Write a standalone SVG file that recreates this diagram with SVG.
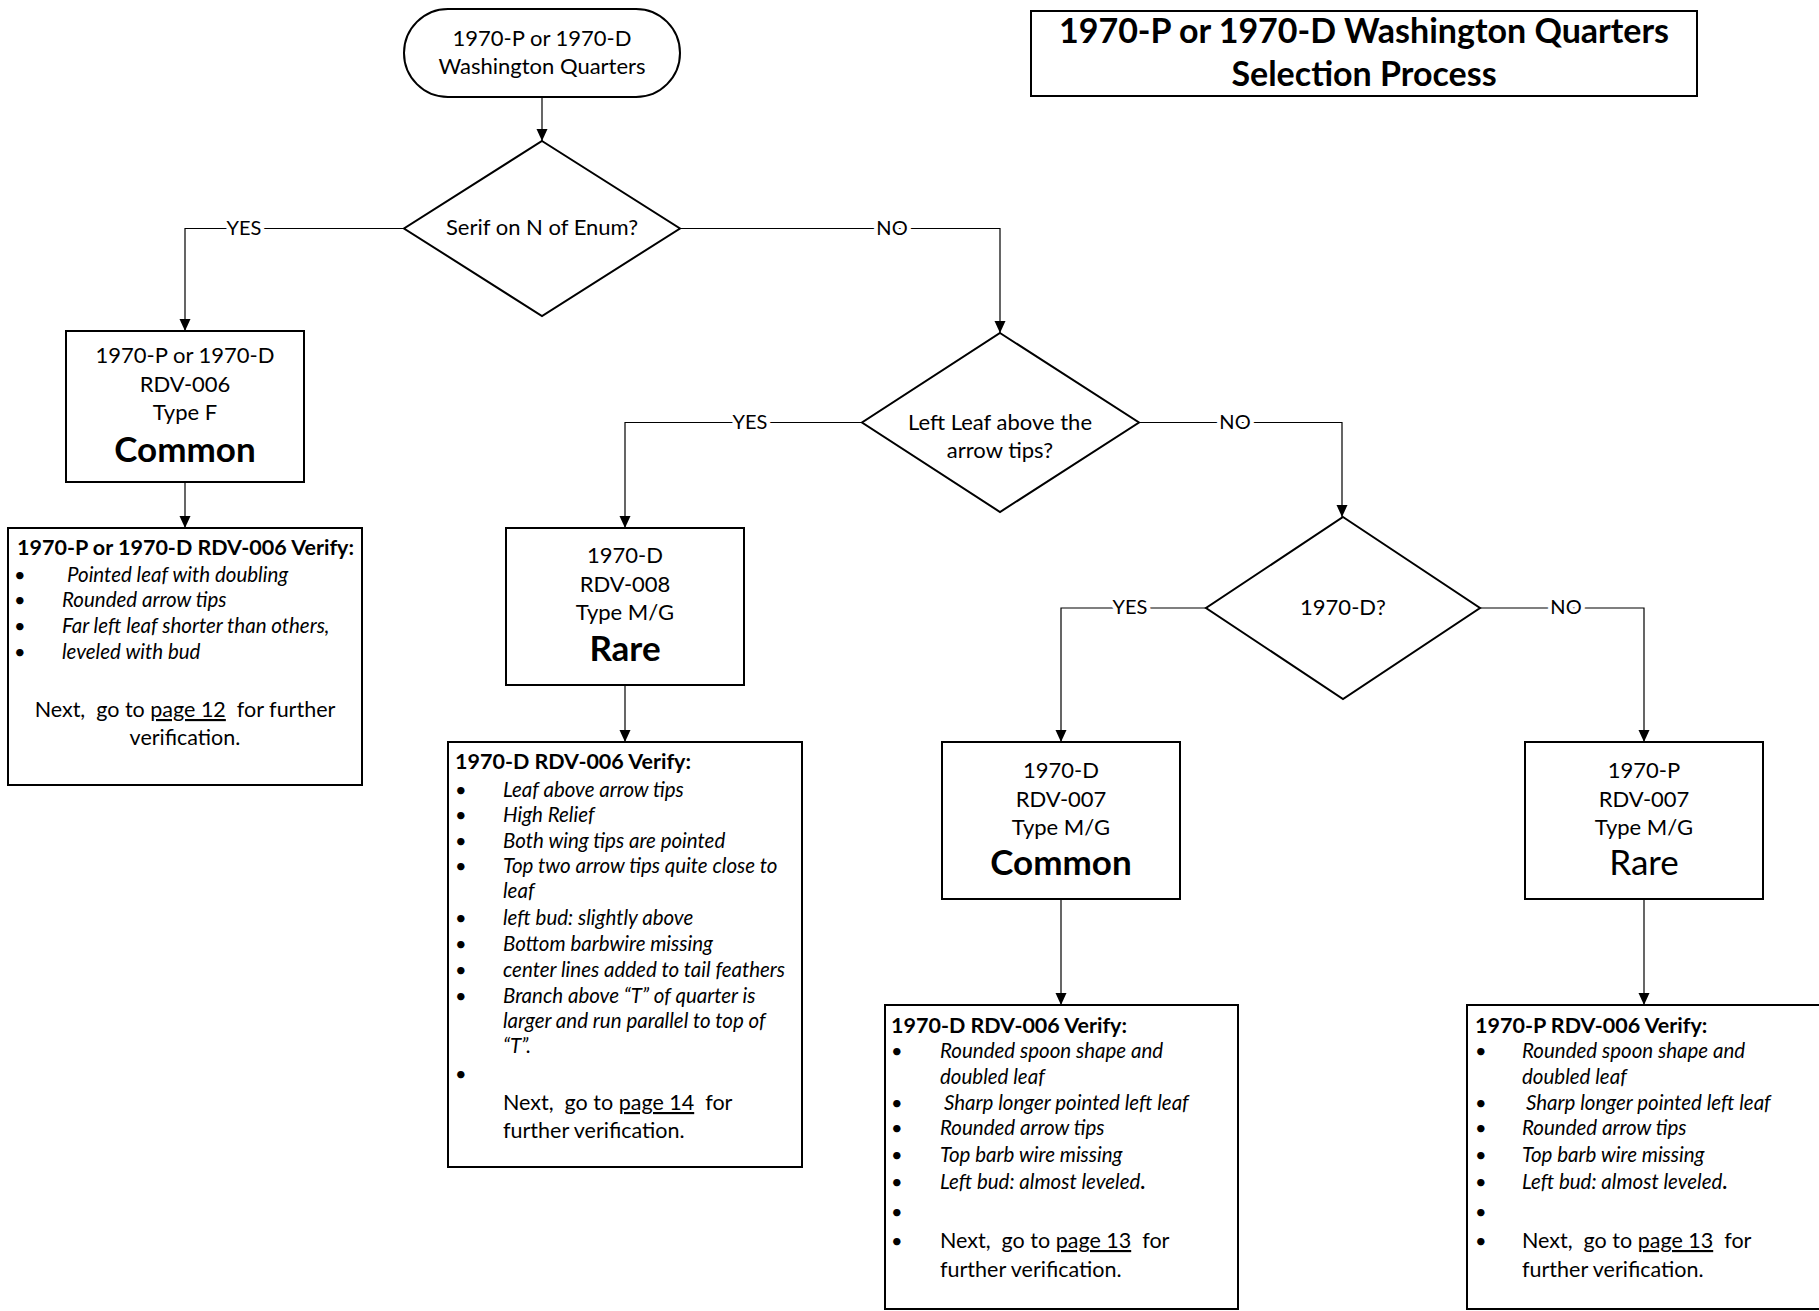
<svg xmlns="http://www.w3.org/2000/svg" width="1819" height="1311" viewBox="0 0 1819 1311">
<style>
.box{fill:#fff;stroke:#000;stroke-width:2}
.conn{fill:none;stroke:#000;stroke-width:1.2}
text{font-family:Lato,"Open Sans",sans-serif;fill:#000}
.m{font-size:22px;text-anchor:middle}
.big{font-size:35px;font-weight:bold;text-anchor:middle}
.bigr{font-size:35px;text-anchor:middle}
.lbl{font-size:20px;text-anchor:middle;stroke:#fff;stroke-width:8;paint-order:stroke}
.hd{font-size:21.5px;font-weight:bold}
.it{font-size:20.5px;font-style:italic}
.nx{font-size:21.5px;white-space:pre}
.bu{font-size:20px}
.ttl{font-size:34px;font-weight:bold;text-anchor:middle}
</style>
<defs>
<marker id="ah" markerWidth="12" markerHeight="14" refX="12" refY="7" orient="auto" markerUnits="userSpaceOnUse">
<path d="M0,1.5 L12,7 L0,12.5 Z" fill="#000"/>
</marker>
</defs>

<g id="connectors">
<path class="conn" d="M542,97 V141" marker-end="url(#ah)"/>
<path class="conn" d="M404,228.5 H185 V331" marker-end="url(#ah)"/>
<path class="conn" d="M680,228.5 H1000 V333" marker-end="url(#ah)"/>
<path class="conn" d="M185,482 V528" marker-end="url(#ah)"/>
<path class="conn" d="M862,422.5 H625 V528" marker-end="url(#ah)"/>
<path class="conn" d="M1139,422.5 H1342 V517" marker-end="url(#ah)"/>
<path class="conn" d="M625,685 V742" marker-end="url(#ah)"/>
<path class="conn" d="M1206,608 H1061 V742" marker-end="url(#ah)"/>
<path class="conn" d="M1480,608 H1644 V742" marker-end="url(#ah)"/>
<path class="conn" d="M1061,899 V1005" marker-end="url(#ah)"/>
<path class="conn" d="M1644,899 V1005" marker-end="url(#ah)"/>
<text class="lbl" x="244" y="235">YES</text>
<text class="lbl" x="892" y="235">NO</text>
<text class="lbl" x="750" y="429">YES</text>
<text class="lbl" x="1235" y="429">NO</text>
<text class="lbl" x="1130" y="614">YES</text>
<text class="lbl" x="1566" y="614">NO</text>
</g>

<g id="title">
<rect class="box" x="1031" y="11" width="666" height="85"/>
<text class="ttl" x="1364" y="43">1970-P or 1970-D Washington Quarters</text>
<text class="ttl" x="1364" y="86">Selection Process</text>
</g>

<g id="start">
<rect class="box" x="404" y="9" width="276" height="88" rx="44" ry="44"/>
<text class="m" x="542" y="46">1970-P or 1970-D</text>
<text class="m" x="542" y="74">Washington Quarters</text>
</g>

<g id="d1">
<polygon class="box" points="542,141 680,228.5 542,316 404,228.5"/>
<text class="m" x="542" y="235">Serif on N of Enum?</text>
</g>

<g id="boxA">
<rect class="box" x="66" y="331" width="238" height="151"/>
<text class="m" x="185" y="363">1970-P or 1970-D</text>
<text class="m" x="185" y="392">RDV-006</text>
<text class="m" x="185" y="420">Type F</text>
<text class="big" x="185" y="462">Common</text>
</g>

<g id="verifyA">
<rect class="box" x="8" y="528" width="354" height="257"/>
<text class="hd" x="17" y="555">1970-P or 1970-D RDV-006 Verify:</text>
<text class="bu" x="14" y="582">•</text>
<text class="bu" x="14" y="607">•</text>
<text class="bu" x="14" y="633">•</text>
<text class="bu" x="14" y="659">•</text>
<text class="it" x="67" y="582">Pointed leaf with doubling</text>
<text class="it" x="62" y="607">Rounded arrow tips</text>
<text class="it" x="62" y="633">Far left leaf shorter than others,</text>
<text class="it" x="62" y="659">leveled with bud</text>
<text class="nx" x="185" y="717" text-anchor="middle" xml:space="preserve">Next,  go to <tspan text-decoration="underline">page 12</tspan>  for further</text>
<text class="nx" x="185" y="745" text-anchor="middle">verification.</text>
</g>

<g id="d2">
<polygon class="box" points="1000,333 1139,422.5 1000,512 862,422.5"/>
<text class="m" x="1000" y="430">Left Leaf above the</text>
<text class="m" x="1000" y="458">arrow tips?</text>
</g>

<g id="boxB">
<rect class="box" x="506" y="528" width="238" height="157"/>
<text class="m" x="625" y="563">1970-D</text>
<text class="m" x="625" y="592">RDV-008</text>
<text class="m" x="625" y="620">Type M/G</text>
<text class="big" x="625" y="661">Rare</text>
</g>

<g id="verifyB">
<rect class="box" x="448" y="742" width="354" height="425"/>
<text class="hd" x="455" y="769">1970-D RDV-006 Verify:</text>
<text class="bu" x="455" y="797">•</text>
<text class="bu" x="455" y="822">•</text>
<text class="bu" x="455" y="848">•</text>
<text class="bu" x="455" y="873">•</text>
<text class="bu" x="455" y="925">•</text>
<text class="bu" x="455" y="951">•</text>
<text class="bu" x="455" y="977">•</text>
<text class="bu" x="455" y="1003">•</text>
<text class="bu" x="455" y="1081">•</text>
<text class="it" x="503" y="797">Leaf above arrow tips</text>
<text class="it" x="503" y="822">High Relief</text>
<text class="it" x="503" y="848">Both wing tips are pointed</text>
<text class="it" x="503" y="873">Top two arrow tips quite close to</text>
<text class="it" x="503" y="898">leaf</text>
<text class="it" x="503" y="925">left bud: slightly above</text>
<text class="it" x="503" y="951">Bottom barbwire missing</text>
<text class="it" x="503" y="977">center lines added to tail feathers</text>
<text class="it" x="503" y="1003">Branch above “T” of quarter is</text>
<text class="it" x="503" y="1028">larger and run parallel to top of</text>
<text class="it" x="503" y="1053">“T”.</text>
<text class="nx" x="503" y="1110" xml:space="preserve">Next,  go to <tspan text-decoration="underline">page 14</tspan>  for</text>
<text class="nx" x="503" y="1138">further verification.</text>
</g>

<g id="d3">
<polygon class="box" points="1343,517 1480,608 1343,699 1206,608"/>
<text class="m" x="1343" y="615">1970-D?</text>
</g>

<g id="boxC">
<rect class="box" x="942" y="742" width="238" height="157"/>
<text class="m" x="1061" y="778">1970-D</text>
<text class="m" x="1061" y="807">RDV-007</text>
<text class="m" x="1061" y="835">Type M/G</text>
<text class="big" x="1061" y="875">Common</text>
</g>

<g id="boxD">
<rect class="box" x="1525" y="742" width="238" height="157"/>
<text class="m" x="1644" y="778">1970-P</text>
<text class="m" x="1644" y="807">RDV-007</text>
<text class="m" x="1644" y="835">Type M/G</text>
<text class="bigr" x="1644" y="875">Rare</text>
</g>

<g id="verifyC">
<rect class="box" x="885" y="1005" width="353" height="304"/>
<text class="hd" x="891" y="1033">1970-D RDV-006 Verify:</text>
<text class="bu" x="891" y="1058">•</text>
<text class="bu" x="891" y="1110">•</text>
<text class="bu" x="891" y="1135">•</text>
<text class="bu" x="891" y="1162">•</text>
<text class="bu" x="891" y="1189">•</text>
<text class="bu" x="891" y="1219">•</text>
<text class="bu" x="891" y="1248">•</text>
<text class="it" x="940" y="1058">Rounded spoon shape and</text>
<text class="it" x="940" y="1084">doubled leaf</text>
<text class="it" x="944" y="1110">Sharp longer pointed left leaf</text>
<text class="it" x="940" y="1135">Rounded arrow tips</text>
<text class="it" x="940" y="1162">Top barb wire missing</text>
<text class="it" x="940" y="1189">Left bud: almost leveled<tspan font-style="normal" font-weight="bold">.</tspan></text>
<text class="nx" x="940" y="1248" xml:space="preserve">Next,  go to <tspan text-decoration="underline">page 13</tspan>  for</text>
<text class="nx" x="940" y="1277">further verification.</text>
</g>

<g id="verifyD">
<rect class="box" x="1467" y="1005" width="355" height="304"/>
<text class="hd" x="1475" y="1033">1970-P RDV-006 Verify:</text>
<text class="bu" x="1475" y="1058">•</text>
<text class="bu" x="1475" y="1110">•</text>
<text class="bu" x="1475" y="1135">•</text>
<text class="bu" x="1475" y="1162">•</text>
<text class="bu" x="1475" y="1189">•</text>
<text class="bu" x="1475" y="1219">•</text>
<text class="bu" x="1475" y="1248">•</text>
<text class="it" x="1522" y="1058">Rounded spoon shape and</text>
<text class="it" x="1522" y="1084">doubled leaf</text>
<text class="it" x="1526" y="1110">Sharp longer pointed left leaf</text>
<text class="it" x="1522" y="1135">Rounded arrow tips</text>
<text class="it" x="1522" y="1162">Top barb wire missing</text>
<text class="it" x="1522" y="1189">Left bud: almost leveled<tspan font-style="normal" font-weight="bold">.</tspan></text>
<text class="nx" x="1522" y="1248" xml:space="preserve">Next,  go to <tspan text-decoration="underline">page 13</tspan>  for</text>
<text class="nx" x="1522" y="1277">further verification.</text>
</g>
</svg>
